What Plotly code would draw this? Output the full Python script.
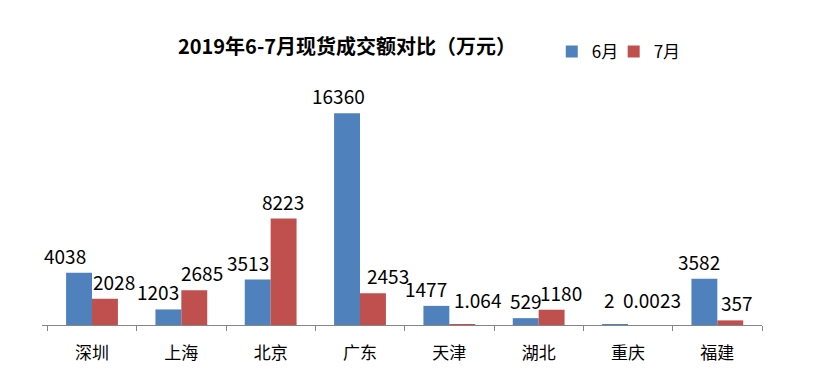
import plotly.graph_objects as go

categories = ["深圳", "上海", "北京", "广东", "天津", "湖北", "重庆", "福建"]
june = [4038, 1203, 3513, 16360, 1477, 529, 2, 3582]
july = [2028, 2685, 8223, 2453, 1.064, 1180, 0.0023, 357]
series_names = ["6月", "7月"]
title_text = "2019年6-7月现货成交额对比（万元）"

colors = ["#4F81BD", "#C0504D"]
FONT = "Noto Sans CJK SC, Microsoft YaHei, sans-serif"

# label placement tweaks (pixels) to mimic the original label layout
label_dx = [
    [-14, -10, -10, -9, -10, 0, -6, -5],
    [9, 8, -1, 15, 15, 9, 11, 7],
]
label_dy = [
    [2, 2, 2, 2, 2, 2, 10, 2],
    [2, 2, 2, 2, 10, 2, 10, 2],
]
bar_offset = [-13, 13]
legend_ids = ["legend", "legend2"]

# The page body has an 8px margin, so the figure is sized/offset to compensate.
W, H = 823, 383

fig = go.Figure()
for i, (name, vals) in enumerate(zip(series_names, [june, july])):
    fig.add_trace(go.Bar(
        x=categories, y=vals, name=name,
        marker=dict(color=colors[i], line=dict(width=0)),
        hoverinfo="x+y", legend=legend_ids[i],
    ))

annotations = []
for i, vals in enumerate([june, july]):
    for j, (c, v) in enumerate(zip(categories, vals)):
        annotations.append(dict(
            x=c, y=v, xref="x", yref="y",
            text=f"{v:g}", showarrow=False,
            xanchor="center", yanchor="bottom",
            xshift=bar_offset[i] + label_dx[i][j], yshift=label_dy[i][j],
            font=dict(family=FONT, size=19, color="#000000"),
        ))

legend_style = dict(orientation="h", xanchor="left", y=1.172, yanchor="middle",
                    font=dict(family=FONT, size=17, color="#000000"),
                    bgcolor="rgba(0,0,0,0)", itemwidth=30)

fig.update_layout(
    width=W, height=H,
    margin=dict(l=34, r=69, t=84, b=66, autoexpand=False),
    paper_bgcolor="white", plot_bgcolor="white",
    barmode="group", bargap=0.42, bargroupgap=0,
    title=dict(text=title_text, x=339 / W, xref="container", xanchor="center",
               y=1 - 39 / H, yref="container", yanchor="middle",
               font=dict(family=FONT, size=20, color="#000000", weight="bold")),
    legend=dict(x=0.708, **legend_style),
    legend2=dict(x=0.794, **legend_style),
    xaxis=dict(showline=True, linecolor="#868686", linewidth=1,
               ticks="outside", tickson="boundaries", ticklen=5, tickcolor="#868686",
               tickfont=dict(family=FONT, size=17, color="#000000"),
               ticklabelstandoff=13, showgrid=False, zeroline=False, automargin=False),
    yaxis=dict(visible=False, range=[0, 18000], showgrid=False, zeroline=False,
               automargin=False),
    annotations=annotations,
    showlegend=True,
)

fig.write_html("out.html")
